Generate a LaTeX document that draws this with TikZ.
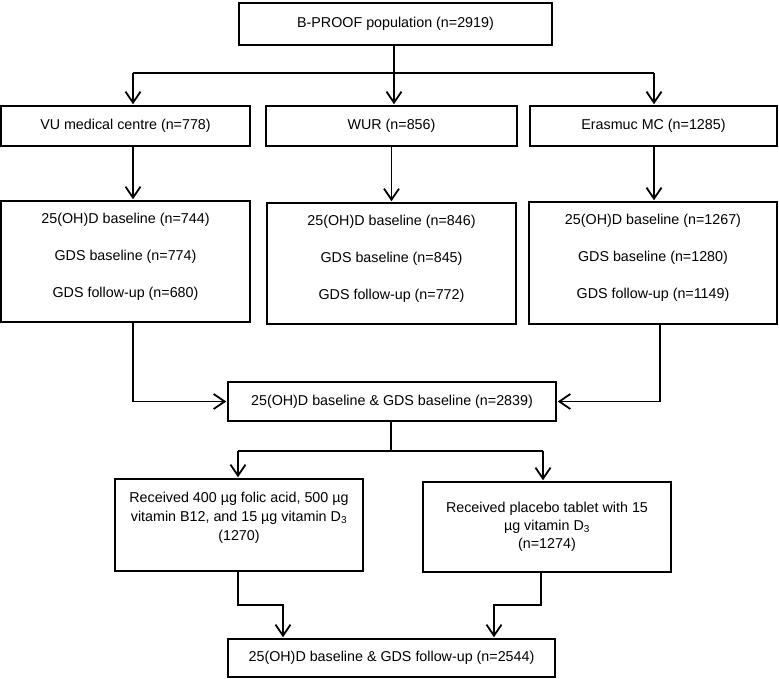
\documentclass[tikz,border=0pt]{standalone}
\usepackage{fontspec}
\setmainfont{Liberation Sans}
\usetikzlibrary{arrows.meta}
\tikzset{
  box/.style={draw, line width=1.5pt, inner sep=0pt, align=center,
              font=\fontsize{14.3}{18}\selectfont},
  link/.style={line width=1.8pt},
  arr/.style={link, -{Straight Barb[length=11pt,width=15pt]}, shorten >=1pt}
}
\begin{document}
\begin{tikzpicture}[x=1pt,y=-1pt]
\useasboundingbox (0,0) rectangle (779,679);
% boxes
\node[box, minimum width=313pt, minimum height=42pt] (top) at (395.5,24) {B-PROOF population (n=2919)};
\node[box, minimum width=249pt, minimum height=40pt] (vu) at (125.5,126) {VU medical centre (n=778)};
\node[box, minimum width=251pt, minimum height=40pt] (wur) at (391.5,126) {WUR (n=856)};
\node[box, minimum width=247pt, minimum height=40pt] (eras) at (653.5,126) {Erasmuc MC (n=1285)};
\node[box, minimum width=249pt, minimum height=121pt, text depth=13pt] (vu2) at (125.5,261.5)
  {25(OH)D baseline (n=744)\\[19pt]GDS baseline (n=774)\\[19pt]GDS follow-up (n=680)};
\node[box, minimum width=249pt, minimum height=121pt, text depth=13pt] (wur2) at (391.5,263.5)
  {25(OH)D baseline (n=846)\\[19pt]GDS baseline (n=845)\\[19pt]GDS follow-up (n=772)};
\node[box, minimum width=248pt, minimum height=122pt, text depth=13pt] (eras2) at (653,263)
  {25(OH)D baseline (n=1267)\\[19pt]GDS baseline (n=1280)\\[19pt]GDS follow-up (n=1149)};
\node[box, minimum width=328pt, minimum height=39pt] (merge) at (392,401.5)
  {25(OH)D baseline \& GDS baseline (n=2839)};
\node[box, minimum width=248pt, minimum height=92pt, text depth=18pt] (left) at (239,525)
  {Received 400 µg folic acid, 500 µg\\[1pt]vitamin B12, and 15 µg vitamin D\textsubscript{3}\\[1pt](1270)};
\node[box, minimum width=248pt, minimum height=90pt] (right) at (547,527)
  {Received placebo tablet with 15\\[0pt]µg vitamin D\textsubscript{3}\\[0pt](n=1274)};
\node[box, minimum width=327pt, minimum height=38pt] (bottom) at (391.5,658)
  {25(OH)D baseline \& GDS follow-up (n=2544)};
% junction coordinates
\coordinate (s1) at (394,73);
\coordinate (a1) at (133,73);
\coordinate (a3) at (654,73);
\coordinate (c3) at (660,0);
\coordinate (s2) at (391,451);
\coordinate (b1) at (238,451);
\coordinate (b2) at (543,451);
\coordinate (d1) at (238,605);
\coordinate (e1) at (283,605);
\coordinate (d2) at (541,605);
\coordinate (e2) at (494,605);
% connectors
\draw[link] (top.south -| s1) -- (s1);
\draw[link] (a1) -- (a3);
\draw[arr] (a1) -- (vu.north -| a1);
\draw[arr] (s1) -- (wur.north -| s1);
\draw[arr] (a3) -- (eras.north -| a3);
\draw[arr] (vu.south -| a1) -- (vu2.north -| a1);
\draw[arr] (wur.south) -- (wur2.north);
\draw[arr] (eras.south -| a3) -- (eras2.north -| a3);
\draw[arr] (vu2.south -| a1) |- (merge.west);
\draw[arr] (eras2.south -| c3) |- (merge.east);
\draw[link] (merge.south -| s2) -- (s2);
\draw[link] (b1) -- (b2);
\draw[arr] (b1) -- (left.north -| b1);
\draw[arr] (b2) -- (right.north -| b2);
\draw[arr] (left.south -| d1) -- (d1) -- (e1) -- (bottom.north -| e1);
\draw[arr] (right.south -| d2) -- (d2) -- (e2) -- (bottom.north -| e2);
\end{tikzpicture}
\end{document}
